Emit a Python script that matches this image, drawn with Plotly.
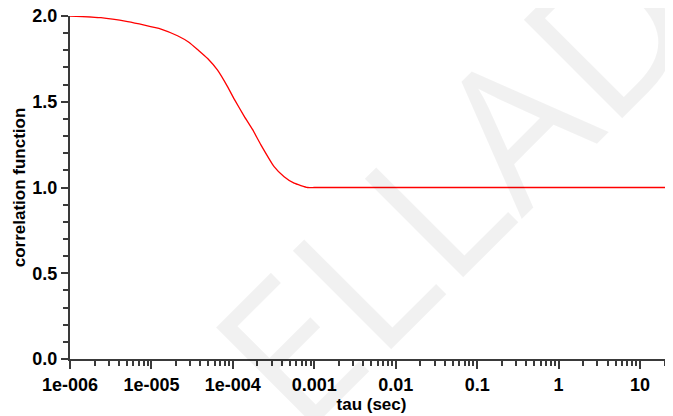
import plotly.graph_objects as go

# ---- data ----
tau_sec = [1.0e-6, 2.4e-6, 5.1e-6, 8.2e-6, 1.31e-5, 2.09e-5, 2.91e-5, 3.69e-5,
           4.9e-5, 6.49e-5, 8.6e-5, 1.04e-4, 1.38e-4, 1.75e-4, 2.21e-4,
           3.21e-4, 4.26e-4, 5.65e-4, 8.26e-4, 1.0e-3, 30.0]
correlation = [2.0, 1.99, 1.967, 1.947, 1.924, 1.885, 1.846, 1.804,
               1.752, 1.684, 1.588, 1.515, 1.415, 1.337, 1.249,
               1.122, 1.063, 1.025, 1.0, 1.0, 1.0]

x_tick_vals = [1e-6, 1e-5, 1e-4, 1e-3, 1e-2, 1e-1, 1, 10]
x_tick_text = ["1e-006", "1e-005", "1e-004", "0.001", "0.01", "0.1", "1", "10"]
x_minor_vals = [m * d for d in [1e-6, 1e-5, 1e-4, 1e-3, 1e-2, 1e-1, 1, 10] for m in range(2, 10)]

y_tick_vals = [0.0, 0.5, 1.0, 1.5, 2.0]
y_tick_text = ["0.0", "0.5", "1.0", "1.5", "2.0"]

watermark = "ELLAD"

AX = "#3a3a3a"
FONT = "Liberation Sans, Arial, sans-serif"

fig = go.Figure()
fig.add_trace(go.Scatter(
    x=tau_sec, y=correlation, mode="lines",
    line=dict(color="#ff0000", width=1.3, shape="spline", smoothing=0.4),
    cliponaxis=False, showlegend=False, hoverinfo="skip",
))

# the page body has an 8px default margin, so the figure is sized to fit
fig.update_layout(
    width=665, height=408,
    margin=dict(l=62, r=0, t=8, b=57),
    paper_bgcolor="white", plot_bgcolor="white",
    font=dict(family=FONT, size=17, color="black"),
    xaxis=dict(
        type="log", range=[-6, 1.405], automargin=False,
        showgrid=False, zeroline=False,
        showline=True, linecolor=AX, linewidth=2,
        ticks="outside", ticklen=8, tickwidth=1.5, tickcolor=AX,
        tickmode="array", tickvals=x_tick_vals, ticktext=x_tick_text,
        ticklabeloverflow="allow",
        tickfont=dict(family=FONT, size=18, color="black", weight="bold"),
        minor=dict(tickmode="array", tickvals=x_minor_vals, ticks="outside",
                   ticklen=5, tickwidth=1.5, tickcolor=AX, showgrid=False),
        title=dict(text="tau (sec)", standoff=0,
                   font=dict(family=FONT, size=17, color="black", weight="bold")),
    ),
    yaxis=dict(
        range=[0, 2], automargin=False,
        showgrid=False, zeroline=False,
        showline=True, linecolor=AX, linewidth=2,
        ticks="outside", ticklen=7, tickwidth=1.5, tickcolor=AX,
        tickmode="array", tickvals=y_tick_vals, ticktext=y_tick_text,
        ticklabeloverflow="allow",
        tickfont=dict(family=FONT, size=18, color="black", weight="bold"),
        minor=dict(dtick=0.1, ticks="outside", ticklen=5, tickwidth=1.5,
                   tickcolor=AX, showgrid=False),
        title=dict(text="correlation function", standoff=2,
                   font=dict(family=FONT, size=17, color="black", weight="bold")),
    ),
    annotations=[dict(
        text=watermark, xref="paper", yref="paper", x=0.632, y=0.516,
        xanchor="center", yanchor="middle", showarrow=False, textangle=-45,
        font=dict(family="Open Sans", size=195, color="rgba(0,0,0,0.055)"),
    )],
)

fig.write_html("out.html")
